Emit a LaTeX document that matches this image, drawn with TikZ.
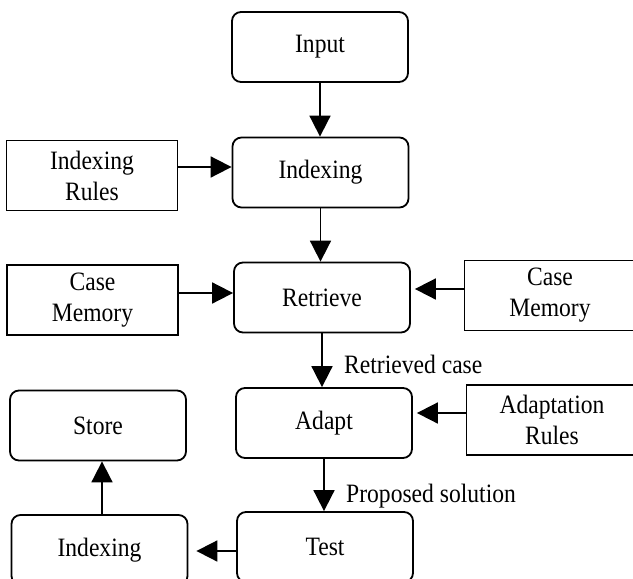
\documentclass[tikz,border=0pt]{standalone}
\usepackage{fontspec}
\setmainfont{Liberation Serif}[FakeStretch=0.89]
\usetikzlibrary{arrows.meta}
\begin{document}
\begin{tikzpicture}[x=1pt,y=-1pt,
  txt/.style={font=\fontsize{26.5}{31}\selectfont},
  rbox/.style={draw, line width=1.8pt, rounded corners=9pt, minimum width=176pt, minimum height=70pt, inner sep=0pt, align=center, txt},
  sbox/.style={draw, line width=1.8pt, minimum width=171pt, minimum height=70pt, inner sep=0pt, align=center, txt},
  arr/.style={line width=1.8pt, -{Triangle[length=21pt,width=21pt]}},
  lbl/.style={anchor=base west, inner sep=0pt, txt}]
\useasboundingbox (0,0) rectangle (633,579);
\clip (0,0) rectangle (633,579);
\node[rbox] (input) at (320,47) {Input};
\node[rbox] (idx) at (320.5,172.5) {Indexing};
\node[rbox] (ret) at (322,297.5) {Retrieve};
\node[rbox] (adapt) at (324,423) {Adapt};
\node[rbox] (test) at (325,547) {Test};
\node[sbox] (ir) at (92,175.5) {Indexing\\Rules};
\node[sbox] (cml) at (92.5,300) {Case\\Memory};
\node[sbox] (cmr) at (550,295.5) {Case\\Memory};
\node[sbox] (ar) at (552,420) {Adaptation\\Rules};
\node[rbox] (store) at (98,425.5) {Store};
\node[rbox] (idx2) at (99.5,550) {Indexing};
\draw[arr] (input.south) -- (input.south |- idx.north);
\draw[arr] (idx.south) -- (idx.south |- ret.north);
\draw[arr] (ret.south) -- (ret.south |- adapt.north);
\draw[arr] (adapt.south) -- (adapt.south |- test.north);
\draw[arr] ([yshift=8.5pt]ir.east) -- ([yshift=8.5pt]ir.east -| idx.west);
\draw[arr] ([yshift=7pt]cml.east) -- ([yshift=7pt]cml.east -| ret.west);
\draw[arr] ([yshift=6.5pt]cmr.west) -- ([yshift=6.5pt,xshift=4pt]cmr.west -| ret.east);
\draw[arr] ([yshift=7pt]ar.west) -- ([yshift=7pt,xshift=4pt]ar.west -| adapt.east);
\draw[arr] ([yshift=-4pt]test.west) -- ([yshift=-4pt,xshift=8pt]test.west -| idx2.east);
\draw[arr] ([xshift=2.5pt]idx2.north) -- ([xshift=2.5pt]idx2.north |- store.south);
\node[lbl] (rc) at (344,373) {Retrieved case};
\node[lbl] (ps) at (346,502) {Proposed solution};
\end{tikzpicture}
\end{document}
